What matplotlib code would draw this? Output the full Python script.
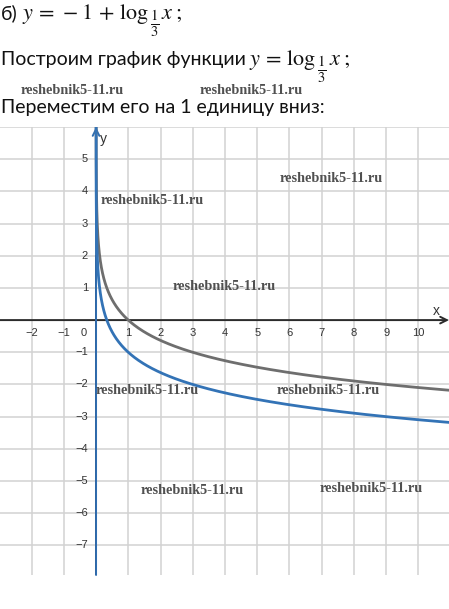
import matplotlib
matplotlib.use("Agg")
import matplotlib.pyplot as plt
import numpy as np

# function data: y = shift + log_base(x)
base = 1 / 3
shift_gray = 0
shift_blue = -1
x_vals = np.geomspace(1e-4, 11, 800)

x_ticks = [-2, -1, 1, 2, 3, 4, 5, 6, 7, 8, 9, 10]
y_ticks = [5, 4, 3, 2, 1, -1, -2, -3, -4, -5, -6, -7]

watermark = "reshebnik5-11.ru"
wm_pos = [(72, 90), (251, 90), (152, 200), (224, 287), (331, 179),
          (147, 391), (328, 391), (192, 491), (371, 488)]

plt.rcParams['mathtext.fontset'] = 'stix'

W, H = 449, 609
fig = plt.figure(figsize=(W / 100, H / 100), dpi=100)
renderer = fig.canvas.get_renderer()


def put(x_px, base_px, s, **kw):
    # place text at pixel position, return its right edge in pixels
    t = fig.text(x_px / W, 1 - base_px / H, s, **kw)
    bb = t.get_window_extent(renderer)
    return bb.x1


def formula(x_px, base_px, head):
    mkw = dict(fontsize=16, color='#111111', va='baseline')
    xe = put(x_px, base_px, head, **mkw)
    fig.text((xe + 0.5) / W, 1 - (base_px + 4.5) / H, r"$\frac{1}{3}$",
             fontsize=15, color='#111111', va='center', ha='left')
    t = fig.text(0, 0, r"$\frac{1}{3}$", fontsize=15)
    fw = t.get_window_extent(renderer).width
    t.remove()
    put(xe + fw + 3, base_px, r"$x\;;$", **mkw)


# text above the graph
tfont = dict(family='Lato', fontsize=14, color='#111111', va='baseline')
put(1, 19, "б)", **tfont)
formula(22, 19, r"$y\,=\,-1\,+\,\log$")
put(1, 65, "Построим график функции", **tfont)
formula(249, 65, r"$y\,=\,\log$")
put(1, 113, "Переместим его на 1 единицу вниз:", **tfont)

# graph area: pixels 127..575 vertically
ax = fig.add_axes([0, (H - 575) / H, 1, (575 - 127) / H])
xmin, xmax = -2.98, 10.95
ymin, ymax = -7.92, 6.0
ax.set_xlim(xmin, xmax)
ax.set_ylim(ymin, ymax)
for s in ax.spines.values():
    s.set_visible(False)
ax.set_xticks(range(-2, 11))
ax.set_yticks(range(-7, 7))
ax.tick_params(length=0, labelbottom=False, labelleft=False)
ax.grid(True, color='#d2d2d2', linewidth=1.1)

# axes with arrows
acol = '#2b2b2b'
ax.annotate('', xy=(xmax, 0), xytext=(xmin, 0),
            arrowprops=dict(arrowstyle='->', color=acol, lw=1.4,
                            shrinkA=0, shrinkB=0, mutation_scale=12))
ax.annotate('', xy=(0, ymax), xytext=(0, ymin),
            arrowprops=dict(arrowstyle='->', color='#2f6db0', lw=1.4,
                            shrinkA=0, shrinkB=0, mutation_scale=12))
ax.plot([0, 0], [ymin, 2], color=acol, lw=1.4)

y_gray = shift_gray + np.log(x_vals) / np.log(base)
y_blue = shift_blue + np.log(x_vals) / np.log(base)
ax.plot(x_vals, y_gray, color='#6e6e6e', lw=2.0, zorder=4)
ax.plot(x_vals, y_blue, color='#3373b6', lw=2.0, zorder=5)

lfont = dict(family='Liberation Sans', fontsize=8, color='#333333')
for t in x_ticks:
    ax.text(t, -0.25, "\u2212%d" % -t if t < 0 else str(t), ha='center', va='top', **lfont)
ax.text(-0.3, -0.25, "0", ha='right', va='top', **lfont)
for t in y_ticks:
    ax.text(-0.25, t, "\u2212%d" % -t if t < 0 else str(t), ha='right', va='center', **lfont)
ax.text(0.22, 5.62, "y", ha='center', va='center', family='Liberation Sans', fontsize=10, color='#333333')
ax.text(10.56, 0.28, "x", ha='center', va='center', family='Liberation Sans', fontsize=10, color='#333333')

for px, py in wm_pos:
    fig.text(px / W, 1 - py / H, watermark, ha='center', va='center',
             family='Liberation Serif', fontweight='bold', fontsize=10.3,
             color='#505050', zorder=10)

fig.savefig("out.png", dpi=100)
